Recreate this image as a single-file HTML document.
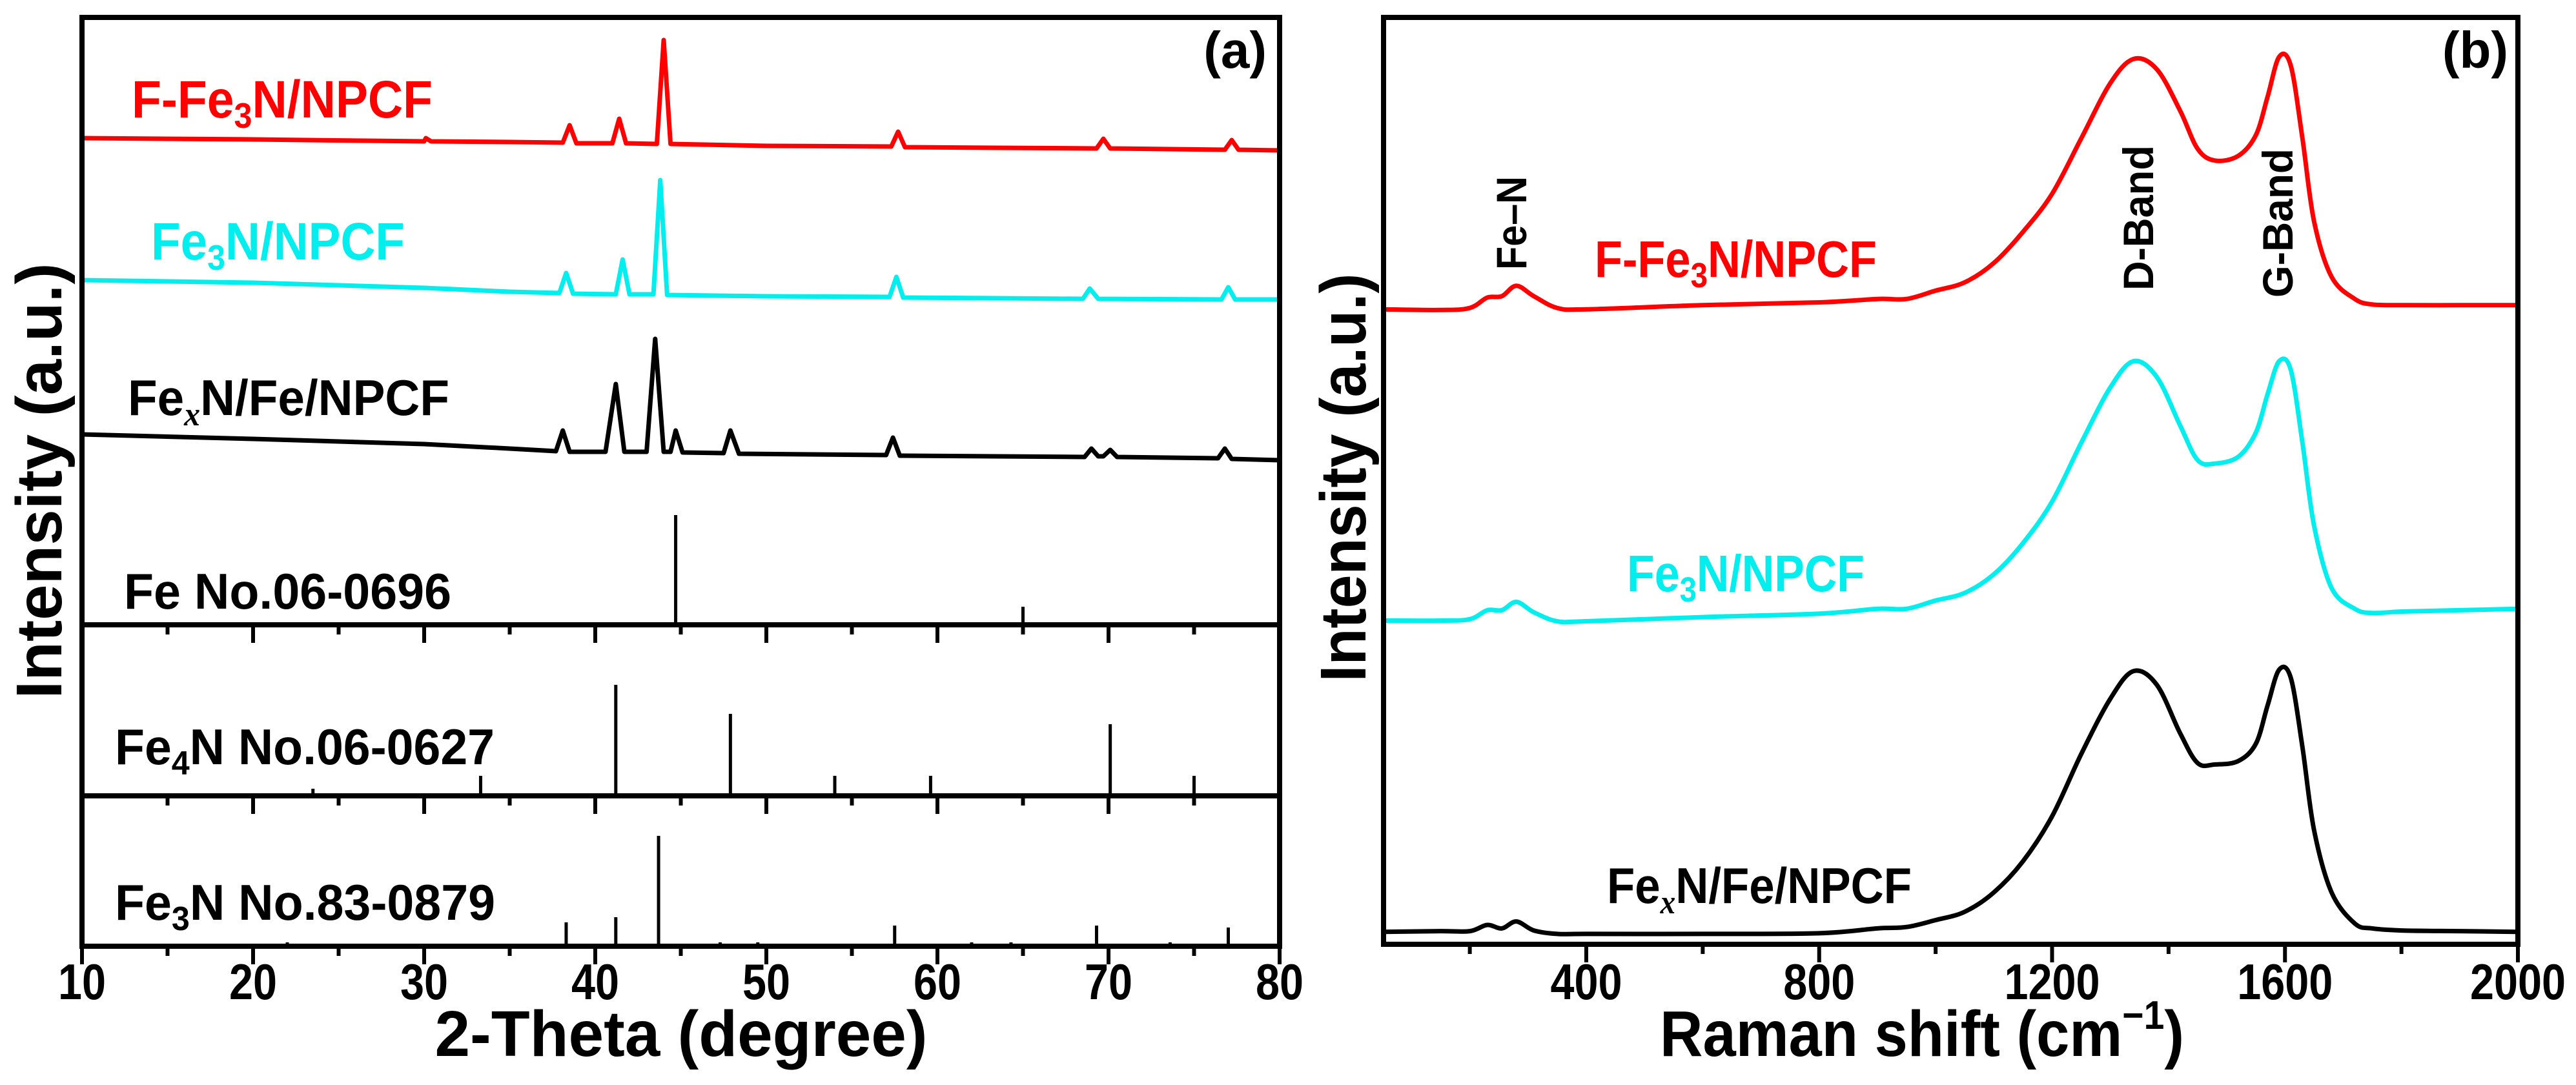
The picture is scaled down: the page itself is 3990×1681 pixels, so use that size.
<!DOCTYPE html>
<html><head><meta charset="utf-8"><style>
html,body{margin:0;padding:0;background:#fff;}
svg{display:block;}
text{font-family:"Liberation Sans",sans-serif;font-weight:bold;}
</style></head><body>
<svg id="chart" width="3990" height="1681" viewBox="0 0 3990 1681" xmlns="http://www.w3.org/2000/svg">
<g id="pa"></g>
<g id="pb"></g>
<!-- Panel a texts -->
<text x="1962" y="105" font-family="Liberation Serif" font-size="80" text-anchor="end">(a)</text>
<text x="204" y="182" font-size="82" fill="#ff0000" textLength="466" lengthAdjust="spacingAndGlyphs">F-Fe<tspan font-size="55" dy="16">3</tspan><tspan dy="-16">N/NPCF</tspan></text>
<text x="234" y="402" font-size="82" fill="#00eeee" textLength="393" lengthAdjust="spacingAndGlyphs">Fe<tspan font-size="55" dy="16">3</tspan><tspan dy="-16">N/NPCF</tspan></text>
<text x="198" y="643" font-size="78" fill="#000" textLength="498" lengthAdjust="spacingAndGlyphs">Fe<tspan font-family="Liberation Serif" font-style="italic" font-size="52" dy="16">x</tspan><tspan dy="-16">N/Fe/NPCF</tspan></text>
<text x="192" y="943" font-size="78" textLength="507" lengthAdjust="spacingAndGlyphs">Fe No.06-0696</text>
<text x="178" y="1184" font-size="78" textLength="588" lengthAdjust="spacingAndGlyphs">Fe<tspan font-size="52" dy="16">4</tspan><tspan dy="-16">N No.06-0627</tspan></text>
<text x="178" y="1425" font-size="78" textLength="589" lengthAdjust="spacingAndGlyphs">Fe<tspan font-size="52" dy="16">3</tspan><tspan dy="-16">N No.83-0879</tspan></text>
<text transform="translate(95,745) rotate(-90)" text-anchor="middle" font-size="100" textLength="675" lengthAdjust="spacingAndGlyphs">Intensity (a.u.)</text>
<text x="1055" y="1636" text-anchor="middle" font-size="100" textLength="763" lengthAdjust="spacingAndGlyphs">2-Theta (degree)</text>
<!-- Panel b texts -->
<text x="3885" y="105" font-family="Liberation Serif" font-size="80" text-anchor="end">(b)</text>
<text x="2470" y="429" font-size="80" fill="#ff0000" textLength="437" lengthAdjust="spacingAndGlyphs">F-Fe<tspan font-size="54" dy="16">3</tspan><tspan dy="-16">N/NPCF</tspan></text>
<text x="2520" y="916" font-size="80" fill="#00eeee" textLength="368" lengthAdjust="spacingAndGlyphs">Fe<tspan font-size="54" dy="16">3</tspan><tspan dy="-16">N/NPCF</tspan></text>
<text x="2489" y="1399" font-size="78" textLength="472" lengthAdjust="spacingAndGlyphs">Fe<tspan font-family="Liberation Serif" font-style="italic" font-size="52" dy="16">x</tspan><tspan dy="-16">N/Fe/NPCF</tspan></text>
<text transform="translate(2364,418) rotate(-90)" font-size="66" textLength="145" lengthAdjust="spacingAndGlyphs">Fe–N</text>
<text transform="translate(3335,450) rotate(-90)" font-size="66" textLength="225" lengthAdjust="spacingAndGlyphs">D-Band</text>
<text transform="translate(3551,461) rotate(-90)" font-size="66" textLength="231" lengthAdjust="spacingAndGlyphs">G-Band</text>
<text transform="translate(2115,740) rotate(-90)" text-anchor="middle" font-size="100" textLength="633" lengthAdjust="spacingAndGlyphs">Intensity (a.u.)</text>
<text x="2571" y="1636" font-size="100" textLength="812" lengthAdjust="spacingAndGlyphs">Raman shift (cm<tspan font-size="62" dy="-42">−1</tspan><tspan dy="42">)</tspan></text>
</svg>
<script>
// ---- Panel (a) XRD data ----
const xrdRedX = [10,20,30,30.1,30.4,35,38.1,38.5,38.9,41.0,41.4,41.8,43.6,44.0,44.4,50,57.3,57.7,58.1,69.3,69.7,70.1,76.8,77.2,77.6,80];
const xrdRedY = [1252,1250,1247,1252,1247,1246,1245,1272,1244,1244,1282,1244,1243,1404,1243,1240,1239,1262,1238,1236,1251,1236,1234,1249,1234,1233];
const xrdCyanX = [10,20,30,35,37.9,38.3,38.7,41.2,41.6,42.0,43.4,43.8,44.2,50,57.2,57.6,58.0,68.5,68.9,69.4,76.6,77,77.4,80];
const xrdCyanY = [1032,1028,1020,1014,1012,1043,1011,1010,1064,1010,1010,1187,1009,1007,1006,1037,1005,1003,1019,1003,1002,1021,1002,1002];
const xrdBlackX = [10,20,30,35,37.7,38.1,38.5,40.6,41.2,41.7,43.0,43.5,44.0,44.4,44.7,45.1,47.5,47.9,48.4,57.0,57.4,57.8,68.6,69.0,69.4,69.7,70.1,70.5,76.4,76.8,77.2,80];
const xrdBlackY = [793,786,778,771,767,799,766,766,871,766,766,941,766,766,799,765,764,799,763,761,788,760,758,771,759,759,769,758,756,771,755,753];
const feRefPos = [44.7,65.0];
const feRefH = [170,28];
const fe4nRefPos = [23.5,33.3,41.2,47.9,54.0,59.6,70.1,75.0];
const fe4nRefH = [11,31,172,127,31,31,111,31];
const fe3nRefPos = [22.0,38.3,41.2,43.7,47.3,49.5,57.5,62.0,64.3,69.3,73.6,77.0];
const fe3nRefH = [6,37,45,171,6,6,32,6,6,32,6,29];
const xrdTicks = [10,20,30,40,50,60,70,80];
// ---- Panel (b) Raman data ----
const ramanX = [50,150,200,230,255,280,310,350,400,600,800,900,950,1000,1050,1100,1150,1200,1250,1300,1340,1380,1420,1450,1480,1520,1550,1570,1590,1610,1630,1650,1680,1720,1750,1800,1900,2000];
const ramanRed = [918,917,920,935,937,952,937,920,918,924,928,933,933,945,957,985,1030,1085,1165,1245,1280,1265,1205,1150,1133,1140,1170,1225,1283,1270,1165,1045,965,933,925,924,924,924];
const ramanCyan = [468,468,470,483,483,495,480,467,467,473,478,485,485,497,508,535,580,640,725,805,843,820,750,700,695,705,740,795,843,830,725,605,515,485,479,481,483,485];
const ramanBlack = [18,19,19,28,23,33,20,15,15,15,16,23,25,35,47,75,120,185,275,355,395,375,305,262,260,265,290,345,397,385,285,165,75,30,23,20,19,18];
const ramanTicks = [400,800,1200,1600,2000];

const NS='http://www.w3.org/2000/svg';
function mk(tag,attrs,parent){const e=document.createElementNS(NS,tag);for(const k in attrs)e.setAttribute(k,attrs[k]);parent.appendChild(e);return e;}
const pa=document.getElementById('pa'), pb=document.getElementById('pb');
// axes a
const AL=127, AR=1982, AT=27, AB=1466, D1=968, D2=1233;
const xa = v => AL + (v-10)/70*(AR-AL);
const ya = v => AB - v;
function poly(xs,ys,fx,fy){return xs.map((x,i)=>(i?'L':'M')+fx(x).toFixed(1)+','+fy(ys[i]).toFixed(1)).join('');}
let p;
p=mk('path',{d:poly(xrdRedX,xrdRedY,xa,ya),fill:'none',stroke:'#ff0000','stroke-width':7,'stroke-linejoin':'round'},pa);


p=mk('path',{d:poly(xrdCyanX,xrdCyanY,xa,ya),fill:'none',stroke:'#00eeee','stroke-width':7,'stroke-linejoin':'round'},pa);


p=mk('path',{d:poly(xrdBlackX,xrdBlackY,xa,ya),fill:'none',stroke:'#000','stroke-width':7,'stroke-linejoin':'round'},pa);


function bars(pos,h,base,name){pos.forEach((x,i)=>{const b=mk('line',{x1:xa(x),x2:xa(x),y1:base,y2:base-h[i],stroke:'#000','stroke-width':5},pa);

});}
bars(feRefPos,feRefH,D1,'fe-ref-bar');
bars(fe4nRefPos,fe4nRefH,D2,'fe4n-ref-bar');
bars(fe3nRefPos,fe3nRefH,AB,'fe3n-ref-bar');
let fr=mk('rect',{x:AL,y:AT,width:AR-AL,height:AB-AT,fill:'none',stroke:'#000','stroke-width':8},pa);


[D1,D2].forEach(y=>{const l=mk('line',{x1:AL,x2:AR,y1:y,y2:y,stroke:'#000','stroke-width':8},pa);

});
[D1,D2,AB].forEach(y=>{for(let v=10;v<=80;v+=5){const maj=v%10===0;const t=mk('line',{x1:xa(v),x2:xa(v),y1:y,y2:y+(maj?28:15),stroke:'#000','stroke-width':6},pa);

}});
xrdTicks.forEach(v=>{const t=mk('text',{x:xa(v),y:1548,'text-anchor':'middle','font-size':78,textLength:74,lengthAdjust:'spacingAndGlyphs'},pa);t.textContent=v;

});
// axes b
const BL=2143, BR=3900, BT=27, BB=1463;
const xb = v => 2457 + (v-400)/1600*(BR-2457);
const yb = v => 1463 - v*(1436/1340);
function smooth(xs,ys){const P=xs.map((x,i)=>[xb(x),yb(ys[i])]);let d='M'+P[0][0].toFixed(1)+','+P[0][1].toFixed(1);
for(let i=0;i<P.length-1;i++){const p0=P[Math.max(0,i-1)],p1=P[i],p2=P[i+1],p3=P[Math.min(P.length-1,i+2)];
const c1=[p1[0]+(p2[0]-p0[0])/6,p1[1]+(p2[1]-p0[1])/6],c2=[p2[0]-(p3[0]-p1[0])/6,p2[1]-(p3[1]-p1[1])/6];
d+='C'+c1.map(n=>n.toFixed(1))+' '+c2.map(n=>n.toFixed(1))+' '+p2.map(n=>n.toFixed(1));}return d;}
p=mk('path',{d:smooth(ramanX,ramanRed),fill:'none',stroke:'#ff0000','stroke-width':7},pb);


p=mk('path',{d:smooth(ramanX,ramanCyan),fill:'none',stroke:'#00eeee','stroke-width':7},pb);


p=mk('path',{d:smooth(ramanX,ramanBlack),fill:'none',stroke:'#000','stroke-width':7},pb);


fr=mk('rect',{x:BL,y:BT,width:BR-BL,height:BB-BT,fill:'none',stroke:'#000','stroke-width':8},pb);


for(let v=200;v<=2000;v+=200){const maj=v%400===0;const t=mk('line',{x1:xb(v),x2:xb(v),y1:BB,y2:BB+(maj?28:15),stroke:'#000','stroke-width':6},pb);

}
ramanTicks.forEach(v=>{const s=String(v);const t=mk('text',{x:xb(v),y:1548,'text-anchor':'middle','font-size':78,textLength:37*s.length,lengthAdjust:'spacingAndGlyphs'},pb);t.textContent=s;

});
</script>
</body></html>
